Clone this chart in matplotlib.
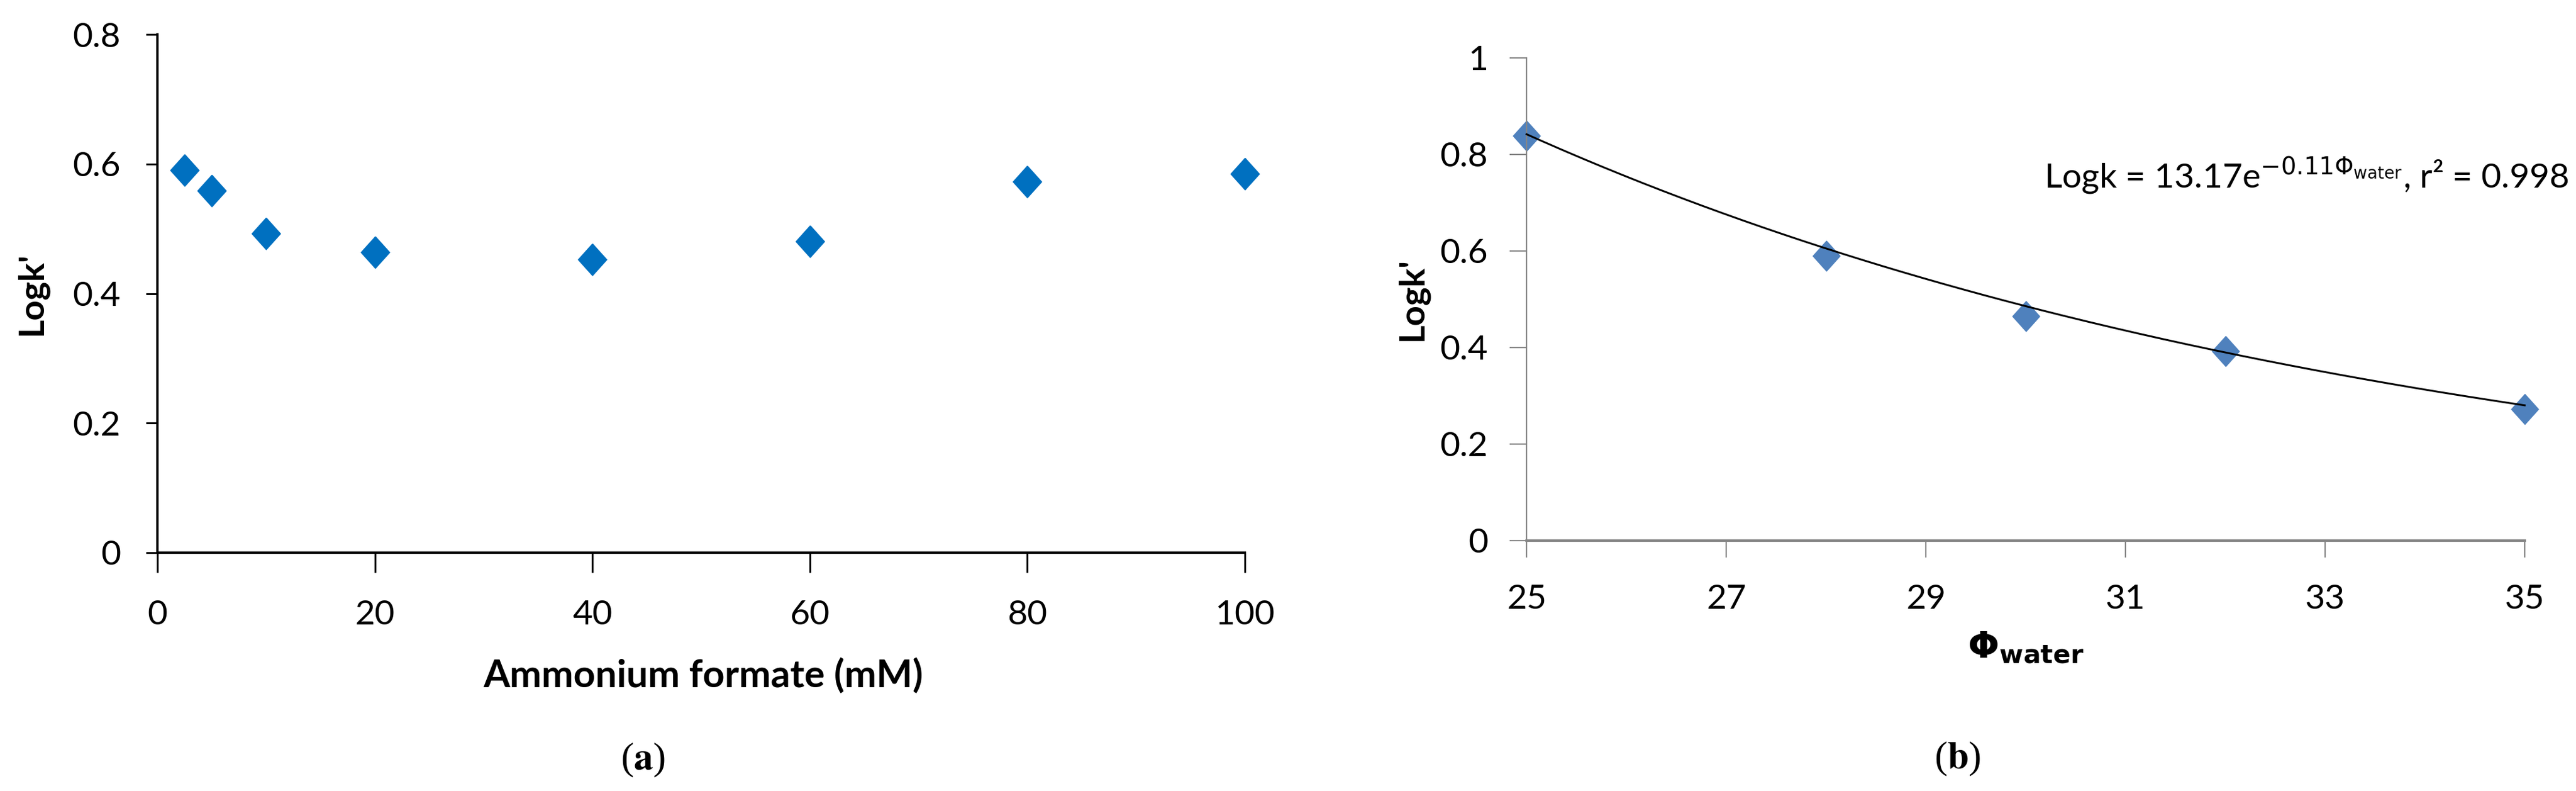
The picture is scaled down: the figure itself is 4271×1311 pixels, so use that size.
import matplotlib
matplotlib.use("Agg")
import matplotlib.pyplot as plt
import numpy as np

plt.rcParams['font.family'] = ['Lato', 'DejaVu Sans']
plt.rcParams['mathtext.fontset'] = 'dejavusans'

# (a) retention vs ammonium formate concentration
formate_mM = [2.5, 5, 10, 20, 40, 60, 80, 100]
logk_a = [0.590, 0.559, 0.493, 0.464, 0.453, 0.481, 0.573, 0.585]

# (b) retention vs water content
phi_water = [25, 28, 30, 32, 35]
logk_b = [0.839, 0.590, 0.465, 0.393, 0.273]
fit_a, fit_b = 13.17, -0.11   # trendline Logk = a*exp(b*phi)
r2 = 0.998

W, H, DPI = 4271, 1311, 100
fig = plt.figure(figsize=(W / DPI, H / DPI), dpi=DPI)

# axes boxes in pixels (left, top, right, bottom)
def box(l, t, r, b):
    return [l / W, 1 - b / H, (r - l) / W, (b - t) / H]

ax1 = fig.add_axes(box(261, 57, 2064, 916))
ax2 = fig.add_axes(box(2531, 96, 4186, 896))

diamond = [(0, 1), (0.9, 0), (0, -1), (-0.9, 0), (0, 1)]
tick_fs = 41

# ---- panel (a)
ax1.plot(formate_mM, logk_a, linestyle='none', marker=diamond, ms=38,
         color='#0070C0', mec='#0070C0', clip_on=False)
ax1.set_xlim(0, 100)
ax1.set_ylim(0, 0.8)
ax1.set_xticks(np.arange(0, 101, 20))
ax1.set_yticks([0, 0.2, 0.4, 0.6, 0.8])
ax1.set_yticklabels(['0', '0.2', '0.4', '0.6', '0.8'])
for s in ['top', 'right']:
    ax1.spines[s].set_visible(False)
for s in ['left', 'bottom']:
    ax1.spines[s].set_color('black')
    ax1.spines[s].set_linewidth(2.8)
ax1.tick_params(axis='both', direction='out', colors='black', width=2.2,
                labelsize=tick_fs)
ax1.tick_params(axis='y', length=14, pad=30)
ax1.tick_params(axis='x', length=24, pad=32)
ax1.set_ylabel("Logk'", fontsize=42, fontweight='bold')
ax1.yaxis.set_label_coords(-0.1154, 0.5)
ax1.yaxis.label.set_va('center')
ax1.set_xlabel('Ammonium formate (mM)', fontsize=45.5, fontweight='bold')
ax1.xaxis.set_label_coords(0.502, -0.2375)
ax1.xaxis.label.set_va('center')

# ---- panel (b)
xs = np.linspace(min(phi_water), max(phi_water), 200)
ax2.plot(xs, fit_a * np.exp(fit_b * xs), color='black', lw=2.2, zorder=3,
         clip_on=False)
ax2.plot(phi_water, logk_b, linestyle='none', marker=diamond, ms=36,
         color='#4F81BD', mec='#4F81BD', zorder=2, clip_on=False)
ax2.set_xlim(25, 35)
ax2.set_ylim(0, 1)
ax2.set_xticks(np.arange(25, 36, 2))
ax2.set_yticks([0, 0.2, 0.4, 0.6, 0.8, 1.0])
ax2.set_yticklabels(['0', '0.2', '0.4', '0.6', '0.8', '1'])
for s in ['top', 'right']:
    ax2.spines[s].set_visible(False)
ax2.spines['left'].set_color('#868686')
ax2.spines['left'].set_linewidth(1.6)
ax2.spines['bottom'].set_color('#868686')
ax2.spines['bottom'].set_linewidth(3.0)
ax2.tick_params(axis='both', direction='out', color='#868686', width=1.6,
                labelcolor='black', labelsize=tick_fs)
ax2.tick_params(axis='y', length=20, pad=26)
ax2.tick_params(axis='x', length=20, pad=32)
ax2.set_ylabel("Logk'", fontsize=42, fontweight='bold')
ax2.yaxis.set_label_coords(-0.1148, 0.5)
ax2.yaxis.label.set_va('center')
ax2.set_xlabel(r'$\mathbf{\Phi}_{\mathbf{water}}$', fontsize=44)
ax2.xaxis.set_label_coords(0.5, -0.2225)
ax2.xaxis.label.set_va('center')
ax2.text(32.81, 0.757,
         'Logk = %.2fe$^{%.2f\\Phi_{\\mathrm{water}}}$, r² = %.3f' % (fit_a, fit_b, r2),
         fontsize=41, ha='center', va='center')

# panel letters
fig.text(1066 / W, 1 - 1260 / H, r'($\mathbf{a}$)', fontsize=46,
         family='Liberation Serif', ha='center', va='center',
         math_fontfamily='stix')
fig.text(3246 / W, 1 - 1258 / H, r'($\mathbf{b}$)', fontsize=46,
         family='Liberation Serif', ha='center', va='center',
         math_fontfamily='stix')

fig.savefig('out.png', dpi=DPI, facecolor='white')
